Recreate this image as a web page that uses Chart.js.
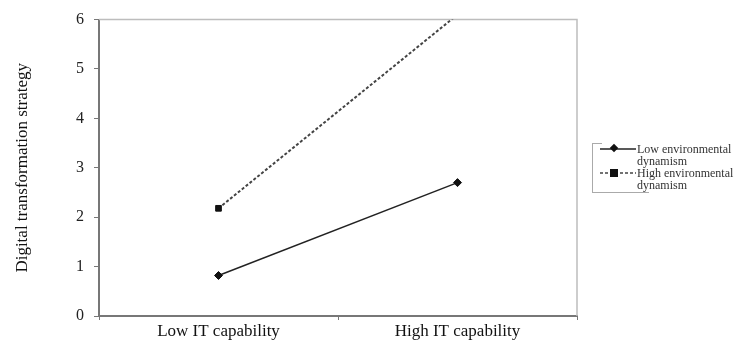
<!DOCTYPE html>
<html>
<head>
<meta charset="utf-8">
<script src="https://cdn.jsdelivr.net/npm/chart.js@4.4.1/dist/chart.umd.min.js"></script>
<style>
  html, body { margin: 0; padding: 0; background: #fff; }
  #wrap { position: relative; width: 739px; height: 342px; }
  #legend {
    position: absolute; left: 592px; top: 143px; width: 147px; height: 50px;
    border-left: 1px solid #aaa;
    font-family: "Liberation Serif", "Times New Roman", serif; font-size: 12px; color: #333;
    box-sizing: border-box;
  }
  #legend::before { content: ''; position: absolute; left: 0; top: 0; width: 9px; border-top: 1px solid #aaa; }
  #legend::after { content: ''; position: absolute; left: 0; bottom: 0; width: 56px; border-top: 1px solid #aaa; }
  .item { position: absolute; left: 7px; line-height: 12px; }
  .item svg { position: absolute; left: 0; }
  .item span { position: absolute; left: 37px; white-space: nowrap; }
</style>
</head>
<body>
<div id="wrap">
  <canvas id="chart" width="739" height="342"></canvas>
  <div id="legend"></div>
</div>
<script>
// Interaction plot data
const categories = ['Low IT capability', 'High IT capability'];
const lowDynamism = [0.82, 2.70];
const highDynamism = [2.18, 6.1];
const seriesNames = [['Low environmental', 'dynamism'], ['High environmental', 'dynamism']];
const yTicks = [0, 1, 2, 3, 4, 5, 6];

const serif = '"Liberation Serif", "Times New Roman", serif';

// plot frame (top and right edges)
const frame = {
  id: 'frame',
  beforeDatasetsDraw(chart) {
    const { ctx, chartArea: a } = chart;
    ctx.save();
    ctx.strokeStyle = '#bdbdbd';
    ctx.lineWidth = 1.5;
    ctx.beginPath();
    ctx.moveTo(a.left, a.top);
    ctx.lineTo(a.right, a.top);
    ctx.lineTo(a.right, a.bottom);
    ctx.stroke();
    ctx.restore();
  }
};

new Chart(document.getElementById('chart').getContext('2d'), {
  type: 'line',
  data: {
    labels: categories,
    datasets: [{
      label: seriesNames[0].join(' '),
      data: lowDynamism,
      borderColor: '#222',
      backgroundColor: '#111',
      pointBorderColor: '#111',
      pointBorderWidth: 1,
      borderWidth: 1.5,
      pointStyle: 'rectRot',
      pointRadius: 4,
      clip: 0
    }, {
      label: seriesNames[1].join(' '),
      data: highDynamism,
      borderColor: '#444',
      backgroundColor: '#111',
      pointBorderColor: '#111',
      pointBorderWidth: 1,
      borderWidth: 2,
      borderDash: [3, 2],
      pointStyle: 'rect',
      pointRadius: 4,
      clip: 0
    }]
  },
  options: {
    responsive: false,
    animation: false,
    layout: { padding: { top: 18, right: 162, left: 0, bottom: 0 } },
    plugins: { legend: { display: false }, tooltip: { enabled: false } },
    scales: {
      x: {
        offset: true,
        grid: { offset: true, drawOnChartArea: false, tickLength: 4, color: '#777' },
        border: { color: '#777', width: 2 },
        ticks: { color: '#111', padding: 1, font: { family: serif, size: 17 } },
        afterFit(s) { s.height = 26; }
      },
      y: {
        min: 0,
        max: 6,
        afterBuildTicks(s) { s.ticks = yTicks.map(v => ({ value: v })); },
        grid: { drawOnChartArea: false, tickLength: 5, color: '#777' },
        border: { color: '#777', width: 2 },
        ticks: { color: '#222', padding: 10, font: { family: serif, size: 16 } },
        title: {
          display: true,
          text: 'Digital transformation strategy',
          color: '#111',
          padding: { top: 12, bottom: 0 },
          font: { family: serif, size: 17 }
        },
        afterFit(s) { s.width = 99; }
      }
    }
  },
  plugins: [frame]
});

// HTML legend
const legend = document.getElementById('legend');
const samples = [
  '<svg width="36" height="12"><line x1="0" y1="6" x2="36" y2="6" stroke="#222" stroke-width="1.5"/><rect x="11" y="2" width="6" height="6" fill="#111" transform="rotate(45 14 5)"/></svg>',
  '<svg width="36" height="12"><line x1="0" y1="6" x2="36" y2="6" stroke="#444" stroke-width="1.5" stroke-dasharray="3 2"/><rect x="10" y="2" width="8" height="8" fill="#111"/></svg>'
];
const tops = [0, 24];
seriesNames.forEach((name, i) => {
  const d = document.createElement('div');
  d.className = 'item';
  d.style.top = tops[i] + 'px';
  d.innerHTML = samples[i] + '<span>' + name[0] + '<br>' + name[1] + '</span>';
  legend.appendChild(d);
});
</script>
</body>
</html>
